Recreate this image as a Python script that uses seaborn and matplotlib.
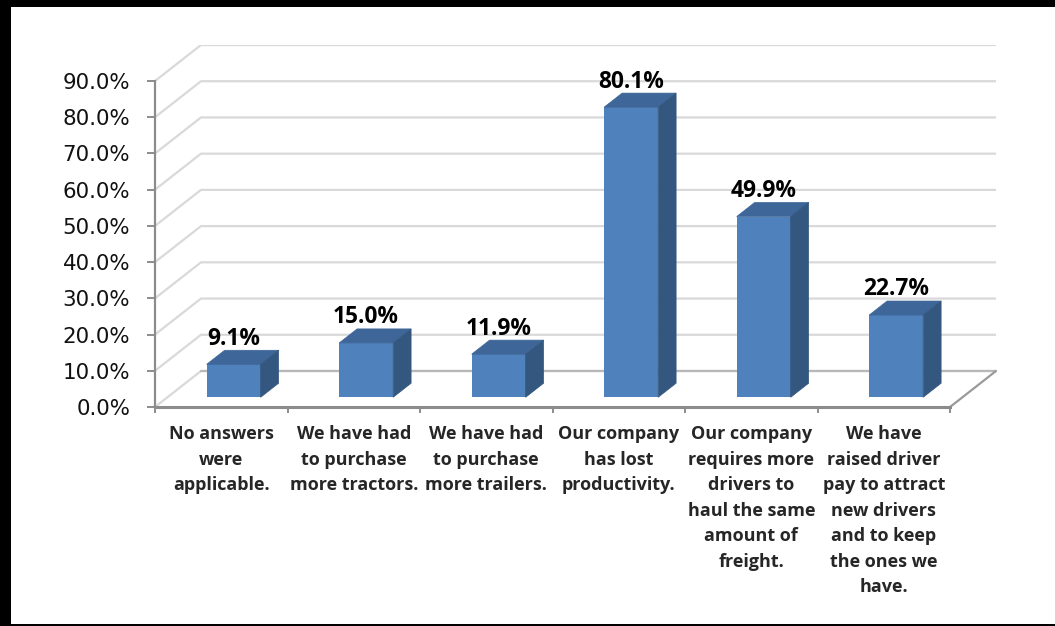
import matplotlib
matplotlib.use("Agg")
import matplotlib.pyplot as plt
from matplotlib.patches import Polygon, Rectangle
import seaborn as sns
import pandas as pd

# Survey responses
categories = [
    "No answers\nwere\napplicable.",
    "We have had\nto purchase\nmore tractors.",
    "We have had\nto purchase\nmore trailers.",
    "Our company\nhas lost\nproductivity.",
    "Our company\nrequires more\ndrivers to\nhaul the same\namount of\nfreight.",
    "We have\nraised driver\npay to attract\nnew drivers\nand to keep\nthe ones we\nhave.",
]
percentages = [9.1, 15.0, 11.9, 80.1, 49.9, 22.7]
y_ticks = [0, 10, 20, 30, 40, 50, 60, 70, 80, 90]
y_tick_labels = [f"{v:.1f}%" for v in y_ticks]

df = pd.DataFrame({"category": categories, "pct": percentages})

sns.set_theme(style="white")
plt.rcParams["font.family"] = ["DejaVu Sans"]
LABEL_FONT = ["Open Sans", "DejaVu Sans"]

FRONT = "#4F81BD"
TOP = "#3E6698"
SIDE = "#34577F"
GRID = "#D9D9D9"
AXIS = "#8C8C8C"

# oblique depth projection (data units for one full unit of depth)
DX = 0.347
DY = 9.94
D0, BD = 0.27, 0.39  # bar depth start and bar depth extent

fig = plt.figure(figsize=(10.55, 6.26), dpi=100)
ax = fig.add_axes([155 / 1055, 219 / 626, (996 - 155) / 1055, (407 - 45) / 626])

sns.barplot(data=df, x="category", y="pct", color=FRONT, width=0.4075,
            saturation=1, ax=ax, zorder=3, linewidth=0)

n = len(categories)
ax.set_xlim(-0.5, n - 0.5 + DX)
ax.set_ylim(0, y_ticks[-1] + DY)

# back wall gridlines with their diagonal run along the side wall
for v in y_ticks:
    ax.plot([-0.5, -0.5 + DX, n - 0.5 + DX], [v, v + DY, v + DY],
            color=GRID, lw=1.6, zorder=1, solid_capstyle="butt")
# floor outline
ax.plot([-0.5 + DX, n - 0.5 + DX], [DY, DY], color="#B8B8B8", lw=1.6, zorder=1)
ax.plot([n - 0.5, n - 0.5 + DX], [0, DY], color="#9A9A9A", lw=1.6, zorder=1,
        clip_on=False)

# 3D faces for each bar, derived from the bar patches
for patch, val in zip(ax.patches, percentages):
    patch.set_x(patch.get_x() + D0 * DX)
    patch.set_y(D0 * DY)
    x0, y0, w, h = patch.get_x(), patch.get_y(), patch.get_width(), patch.get_height()
    ox, oy = BD * DX, BD * DY
    top = Polygon([(x0, y0 + h), (x0 + w, y0 + h), (x0 + w + ox, y0 + h + oy),
                   (x0 + ox, y0 + h + oy)], closed=True, facecolor=TOP,
                  edgecolor=TOP, lw=0.5, zorder=3)
    side = Polygon([(x0 + w, y0), (x0 + w + ox, y0 + oy), (x0 + w + ox, y0 + h + oy),
                    (x0 + w, y0 + h)], closed=True, facecolor=SIDE,
                   edgecolor=SIDE, lw=0.5, zorder=3)
    ax.add_patch(top)
    ax.add_patch(side)
    ax.annotate(f"{val:.1f}%", (x0 + w / 2, y0 + h + oy), xytext=(0, 4),
                textcoords="offset points", ha="center", va="baseline",
                fontsize=16.4, fontweight="bold", family=LABEL_FONT,
                color="black", zorder=5)

# axes lines and ticks
for s in ["top", "right"]:
    ax.spines[s].set_visible(False)
ax.spines["left"].set_bounds(0, y_ticks[-1])
ax.spines["left"].set_color(AXIS)
ax.spines["left"].set_linewidth(1.6)
ax.spines["bottom"].set_bounds(-0.5, n - 0.5)
ax.spines["bottom"].set_color(AXIS)
ax.spines["bottom"].set_linewidth(2.2)

ax.set_yticks(y_ticks)
ax.set_yticklabels(y_tick_labels, fontsize=15.4, color="#111111")
ax.tick_params(axis="y", direction="out", length=6, width=1.4, color=AXIS, pad=12,
               left=True)

ax.set_xticks([i - 0.5 for i in range(n + 1)])
ax.set_xticklabels([""] * (n + 1))
ax.set_xticks(list(range(n)), minor=True)
ax.set_xticklabels(categories, minor=True, fontsize=13, fontweight="bold",
                   family=LABEL_FONT, linespacing=1.54)
ax.tick_params(axis="x", which="major", direction="out", length=4, width=1.4,
               color=AXIS, bottom=True)
ax.tick_params(axis="x", which="minor", length=0, pad=13)
ax.set_xlabel("")
ax.set_ylabel("")
ax.grid(False)

# outer frame
fig.add_artist(Rectangle((0, 0), 11 / 1055, 1, transform=fig.transFigure,
                         facecolor="black", edgecolor="none"))
fig.add_artist(Rectangle((0, 1 - 7 / 626), 1, 7 / 626, transform=fig.transFigure,
                         facecolor="black", edgecolor="none"))
fig.add_artist(Rectangle((0, 0), 1, 2 / 626, transform=fig.transFigure,
                         facecolor="black", edgecolor="none"))

fig.savefig("out.png", dpi=100, facecolor="white")
